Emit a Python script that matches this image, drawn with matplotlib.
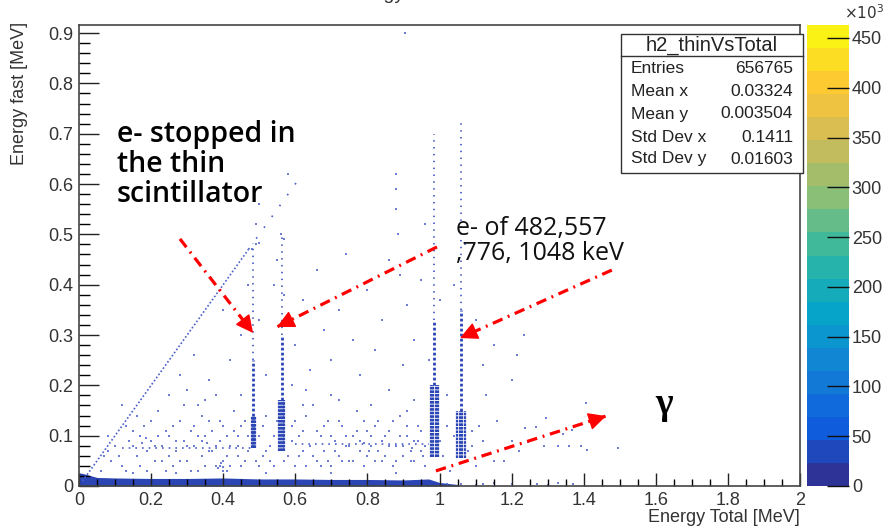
import numpy as np
import matplotlib.pyplot as plt
from matplotlib.colors import LinearSegmentedColormap, ListedColormap, BoundaryNorm
from matplotlib.cm import ScalarMappable
from matplotlib.patches import Rectangle
from matplotlib.ticker import MultipleLocator, FuncFormatter

# ---- data ----
# dense band at low "Energy fast"
band_x = [0.0, 0.01, 0.03, 0.05, 0.1, 0.2, 0.3, 0.4, 0.5, 0.6, 0.7, 0.8, 0.9, 0.97, 1.0, 1.05]
band_top = [0.026, 0.025, 0.021, 0.017, 0.016, 0.015, 0.015, 0.016, 0.014, 0.014, 0.013, 0.013, 0.012, 0.014, 0.007, 0.003]

# electron lines (482, 557, 976, 1048 keV)
peak_x = [0.484, 0.562, 0.986, 1.060]
peak_width = [0.012, 0.020, 0.024, 0.026]
core_lo = [0.075, 0.070, 0.058, 0.055]
core_hi = [0.140, 0.170, 0.200, 0.150]
mid_hi = [0.250, 0.300, 0.330, 0.350]
tail_hi = [0.483, 0.500, 0.700, 0.730]

# y = x edge (all energy deposited in the thin scintillator)
diag_dense = [0.01, 0.47]
diag_sparse = [0.47, 0.62]

# faint horizontal rows
row_y = [0.075, 0.083]
row_x0 = [0.12, 0.60]
row_x1 = [0.48, 0.97]

# isolated entries
scatter_pts = [
    (0.06, 0.03), (0.07, 0.06), (0.08, 0.07), (0.09, 0.05), (0.12, 0.04), (0.13, 0.12), (0.14, 0.09),
    (0.15, 0.08), (0.16, 0.06), (0.17, 0.10), (0.18, 0.12), (0.19, 0.03), (0.20, 0.09), (0.21, 0.08),
    (0.22, 0.15), (0.23, 0.05), (0.24, 0.11), (0.25, 0.10), (0.26, 0.04), (0.27, 0.07), (0.28, 0.13),
    (0.29, 0.09), (0.30, 0.05), (0.31, 0.11), (0.32, 0.08), (0.33, 0.16), (0.33, 0.03), (0.34, 0.06),
    (0.35, 0.10), (0.36, 0.13), (0.37, 0.07), (0.38, 0.04), (0.38, 0.18), (0.39, 0.09), (0.40, 0.05),
    (0.40, 0.12), (0.41, 0.03), (0.42, 0.08), (0.43, 0.15), (0.44, 0.06), (0.44, 0.10), (0.45, 0.04),
    (0.46, 0.13), (0.47, 0.07), (0.49, 0.05), (0.50, 0.10), (0.51, 0.06), (0.52, 0.14), (0.53, 0.08),
    (0.54, 0.04), (0.57, 0.05), (0.59, 0.09), (0.60, 0.13), (0.61, 0.06), (0.62, 0.11), (0.63, 0.04),
    (0.64, 0.08), (0.65, 0.16), (0.66, 0.05), (0.67, 0.10), (0.68, 0.07), (0.69, 0.13), (0.70, 0.04),
    (0.71, 0.09), (0.72, 0.06), (0.73, 0.12), (0.74, 0.08), (0.75, 0.05), (0.76, 0.10), (0.77, 0.15),
    (0.78, 0.07), (0.79, 0.04), (0.80, 0.11), (0.81, 0.08), (0.82, 0.05), (0.83, 0.13), (0.84, 0.09),
    (0.85, 0.06), (0.86, 0.11), (0.87, 0.04), (0.88, 0.08), (0.89, 0.14), (0.90, 0.06), (0.91, 0.10),
    (0.92, 0.05), (0.93, 0.09), (0.94, 0.12), (0.95, 0.07), (0.96, 0.04), (1.01, 0.06), (1.02, 0.12),
    (1.03, 0.03), (1.08, 0.07), (1.09, 0.11), (1.10, 0.04), (1.12, 0.09), (1.15, 0.05), (1.16, 0.13),
    (1.13, 0.18), (1.18, 0.05), (1.20, 0.09), (1.22, 0.07), (1.237, 0.115), (1.245, 0.087),
    (1.267, 0.117), (1.29, 0.08), (1.296, 0.135), (1.33, 0.08), (1.343, 0.103), (1.36, 0.08),
    (1.368, 0.111), (1.393, 0.079), (1.41, 0.072), (1.406, 0.165), (1.495, 0.076),
    (0.08, 0.10), (0.10, 0.08), (0.11, 0.06), (0.13, 0.03), (0.15, 0.11), (0.17, 0.04), (0.19, 0.07),
    (0.20, 0.13), (0.21, 0.05), (0.22, 0.10), (0.23, 0.08), (0.24, 0.03), (0.25, 0.06), (0.26, 0.12),
    (0.27, 0.09), (0.28, 0.05), (0.29, 0.16), (0.30, 0.08), (0.31, 0.03), (0.32, 0.12), (0.33, 0.10),
    (0.34, 0.14), (0.35, 0.04), (0.36, 0.07), (0.37, 0.11), (0.38, 0.08), (0.39, 0.04), (0.39, 0.13),
    (0.40, 0.03), (0.41, 0.06), (0.41, 0.10), (0.42, 0.04), (0.43, 0.11), (0.44, 0.08), (0.45, 0.12),
    (0.46, 0.05), (0.47, 0.10), (0.50, 0.04), (0.51, 0.12), (0.52, 0.07), (0.53, 0.05), (0.54, 0.10),
    (0.55, 0.13), (0.58, 0.06), (0.59, 0.12), (0.60, 0.04), (0.61, 0.10), (0.62, 0.07), (0.63, 0.14),
    (0.65, 0.06), (0.66, 0.11), (0.67, 0.04), (0.68, 0.12), (0.69, 0.05), (0.70, 0.10), (0.71, 0.07),
    (0.72, 0.13), (0.73, 0.05), (0.74, 0.10), (0.75, 0.08), (0.76, 0.05), (0.77, 0.11), (0.78, 0.09),
    (0.79, 0.13), (0.80, 0.06), (0.81, 0.10), (0.82, 0.12), (0.83, 0.07), (0.84, 0.05), (0.85, 0.10),
    (0.86, 0.08), (0.87, 0.13), (0.88, 0.05), (0.89, 0.10), (0.90, 0.08), (0.91, 0.12), (0.92, 0.07),
    (0.93, 0.05), (0.94, 0.09), (0.95, 0.11), (0.96, 0.08), (0.955, 0.06), (1.00, 0.09), (1.04, 0.10),
    (1.07, 0.05), (1.09, 0.08), (1.11, 0.12), (0.12, 0.16), (0.16, 0.14), (0.35, 0.17), (0.45, 0.18),
    (0.62, 0.16), (0.72, 0.17), (0.81, 0.16), (0.91, 0.15), (0.15, 0.025), (0.27, 0.025), (0.52, 0.025),
    (0.70, 0.025), (0.88, 0.025), (0.385, 0.035), (0.395, 0.045), (0.40, 0.038), (0.175, 0.085),
    (0.185, 0.095), (0.34, 0.09), (0.355, 0.085), (0.79, 0.085), (0.805, 0.07), (0.925, 0.075),
    (0.28, 0.22), (0.32, 0.26), (0.36, 0.21), (0.42, 0.25), (0.45, 0.30), (0.40, 0.35), (0.50, 0.33),
    (0.52, 0.22), (0.54, 0.40), (0.60, 0.28), (0.62, 0.37), (0.64, 0.23), (0.66, 0.43), (0.68, 0.31),
    (0.70, 0.25), (0.72, 0.35), (0.74, 0.46), (0.76, 0.29), (0.78, 0.22), (0.80, 0.39), (0.82, 0.27),
    (0.84, 0.33), (0.86, 0.45), (0.88, 0.62), (0.88, 0.59), (0.90, 0.24), (0.91, 0.36), (0.93, 0.29),
    (0.95, 0.41), (0.96, 0.52), (0.905, 0.90), (1.10, 0.33), (1.12, 0.24), (1.15, 0.28), (1.20, 0.21),
    (1.235, 0.30), (1.215, 0.26), (0.49, 0.52), (0.50, 0.56), (0.58, 0.62), (0.47, 0.40), (0.55, 0.45),
    (0.57, 0.38), (0.59, 0.20), (0.63, 0.19), (0.93, 0.17), (0.97, 0.25), (1.00, 0.37), (1.04, 0.40),
    (1.07, 0.48), (1.02, 0.18), (0.86, 0.19), (0.70, 0.18), (0.25, 0.18), (0.30, 0.19), (0.88, 0.55),
    (0.885, 0.50), (0.89, 0.42), (0.48, 0.47), (0.49, 0.48), (0.50, 0.483), (0.56, 0.50), (0.57, 0.49),
    (1.02, 0.003), (1.06, 0.004), (1.10, 0.002), (1.15, 0.005), (1.20, 0.003), (1.27, 0.004),
    (1.30, 0.002), (1.33, 0.006), (1.37, 0.003), (1.12, 0.004),
]

# stats box
stat_title = "h2_thinVsTotal"
stat_names = ["Entries", "Mean x", "Mean y", "Std Dev x", "Std Dev y"]
stat_values = ["656765", "0.03324", "0.003504", "0.1411", "0.01603"]

# colour scale (ROOT kBird, 20 contours)
z_max = 463000
n_contours = 20
z_ticks = [0, 50000, 100000, 150000, 200000, 250000, 300000, 350000, 400000, 450000]
bird_stops = [0.0, 0.125, 0.25, 0.375, 0.5, 0.625, 0.75, 0.875, 1.0]
bird_r = [0.2082, 0.0592, 0.0780, 0.0232, 0.1802, 0.5301, 0.8186, 0.9956, 0.9764]
bird_g = [0.1664, 0.3599, 0.5041, 0.6419, 0.7178, 0.7492, 0.7328, 0.7862, 0.9832]
bird_b = [0.5293, 0.8684, 0.8385, 0.7914, 0.6425, 0.4662, 0.3499, 0.1968, 0.0539]

# ---- figure ----
W, H = 888, 528
fig = plt.figure(figsize=(W / 100, H / 100), dpi=100)
plt.rcParams['font.family'] = ['Liberation Sans', 'DejaVu Sans']


def fx(px):
    return px / W


def fy(py):
    return 1 - py / H


ax = fig.add_axes([fx(79), fy(486), fx(800) - fx(79), fy(25) - fy(486)])

dense = '#2b45b4'
dot = '#4a5fc8'

ax.fill_between(band_x, 0, band_top, color=dense, lw=0)
# speckled cores of the electron lines
for k in [-0.4, -0.13, 0.13, 0.4]:
    xs = np.array(peak_x) + k * np.array(peak_width)
    ax.vlines(xs, core_lo, core_hi, colors=dense, lw=1.6, linestyles=[(0, (1.2, 0.4))])
ax.vlines(peak_x, core_hi, mid_hi, colors=dense, lw=2.0, linestyles=[(0, (1, 0.8))])
ax.vlines(peak_x, mid_hi, tail_hi, colors=dot, lw=1.3, linestyles=[(0, (0.8, 3.0))])
ax.plot(diag_dense, diag_dense, color=dot, lw=1.2, ls=(0, (1, 1.3)))
ax.plot(diag_sparse, diag_sparse, color=dot, lw=1.2, ls=(0, (1, 7)))
ax.hlines(row_y, row_x0, row_x1, colors=dot, lw=1.2, linestyles=[(0, (1, 3))])
pts = np.array(scatter_pts)
ax.scatter(pts[:, 0], pts[:, 1], s=2.6, marker='s', color=dot, lw=0, alpha=0.8)

ax.set_xlim(0, 2)
ax.set_ylim(0, 0.916)
ax.xaxis.set_major_locator(MultipleLocator(0.2))
ax.xaxis.set_minor_locator(MultipleLocator(0.05))
ax.yaxis.set_major_locator(MultipleLocator(0.1))
ax.yaxis.set_minor_locator(MultipleLocator(0.02))
fmt = FuncFormatter(lambda v, p: f"{v:g}")
ax.xaxis.set_major_formatter(fmt)
ax.yaxis.set_major_formatter(fmt)
ax.tick_params(axis='x', which='major', direction='in', length=9.5, width=1, pad=4, labelsize=13)
ax.tick_params(axis='x', which='minor', direction='in', length=5, width=1)
ax.tick_params(axis='y', which='major', direction='in', length=14.5, width=1, pad=4, labelsize=13)
ax.tick_params(axis='y', which='minor', direction='in', length=8, width=1)
ax.tick_params(colors='#222222', labelcolor='#333333')
for s in ax.spines.values():
    s.set_color('#444444')
    s.set_linewidth(1.2)

fig.text(fx(800), fy(517), "Energy Total [MeV]", ha='right', va='center', fontsize=13, color='#333333')
fig.text(fx(20), fy(22), "Energy fast [MeV]", ha='center', va='top', rotation=90, fontsize=13, color='#333333')
# title of the canvas, almost entirely above the visible area
fig.text(fx(342), 1.001, "Energy", ha='left', va='baseline', fontsize=14, color='#333333')

# colour bar
bird = LinearSegmentedColormap.from_list('bird', list(zip(bird_stops, zip(bird_r, bird_g, bird_b))))
levels = np.linspace(0, z_max, n_contours + 1)
cmap = ListedColormap([bird((i + 0.5) / n_contours) for i in range(n_contours)])
cax = fig.add_axes([fx(807), fy(486), fx(849) - fx(807), fy(25) - fy(486)])
cb = fig.colorbar(ScalarMappable(norm=BoundaryNorm(levels, n_contours), cmap=cmap), cax=cax)
cb.outline.set_visible(False)
cb.set_ticks(z_ticks)
cb.set_ticklabels([f"{int(z / 1000)}" for z in z_ticks])
cax.tick_params(direction='in', length=16, width=1, color='#111111', pad=2, labelsize=13,
                labelcolor='#333333')
cax.minorticks_off()
fig.text(fx(864), fy(13), r"$\times10^{3}$", ha='center', va='center', fontsize=11, color='#333333')

# stats box
box_l, box_r, box_t, box_m, box_b = 621, 803, 34, 56, 173
fig.add_artist(Rectangle((fx(box_l), fy(box_b)), fx(box_r) - fx(box_l), fy(box_t) - fy(box_b),
                         transform=fig.transFigure, facecolor='white', edgecolor='#333333', lw=1))
fig.add_artist(plt.Line2D([fx(box_l), fx(box_r)], [fy(box_m), fy(box_m)], transform=fig.transFigure,
                          color='#333333', lw=1))
fig.text(fx((box_l + box_r) / 2), fy(45), stat_title, ha='center', va='center', fontsize=14.5, color='#222222')
row_py = [69, 91, 114, 138, 159]
for name, val, py in zip(stat_names, stat_values, row_py):
    fig.text(fx(631), fy(py), name, ha='left', va='center', fontsize=12.5, color='#222222')
    fig.text(fx(793), fy(py), val, ha='right', va='center', fontsize=12.5, color='#222222')

# annotations
red = '#ff0000'
arrows = [((0.280, 0.491), (0.483, 0.304)),
          ((0.993, 0.475), (0.549, 0.316)),
          ((1.478, 0.429), (1.057, 0.294)),
          ((0.990, 0.030), (1.462, 0.139))]
for tail, tip in arrows:
    ax.plot([tail[0], tip[0]], [tail[1], tip[1]], color=red, lw=2.3, ls=(0, (3.3, 1.8, 0.6, 1.8)),
            solid_capstyle='butt', zorder=5)
    back = (tip[0] - 0.03 * (tip[0] - tail[0]), tip[1] - 0.03 * (tip[1] - tail[1]))
    ax.annotate('', xy=tip, xytext=back,
                arrowprops=dict(arrowstyle='-|>,head_length=1.1,head_width=0.55', color=red, lw=1,
                                shrinkA=0, shrinkB=0), zorder=6)

ax.text(0.105, 0.727, "e- stopped in\nthe thin\nscintillator", ha='left', va='top', fontsize=20.5,
        family='Open Sans', weight='semibold', linespacing=1.05, color='black')
ax.text(1.047, 0.536, "e- of 482,557\n,776, 1048 keV", ha='left', va='top', fontsize=18,
        family='Open Sans', linespacing=1.0, color='#111111')
ax.text(1.623, 0.161, "γ", ha='center', va='center', fontsize=27, family='Liberation Serif',
        weight='bold', color='black')

fig.savefig('out.png', dpi=100)
